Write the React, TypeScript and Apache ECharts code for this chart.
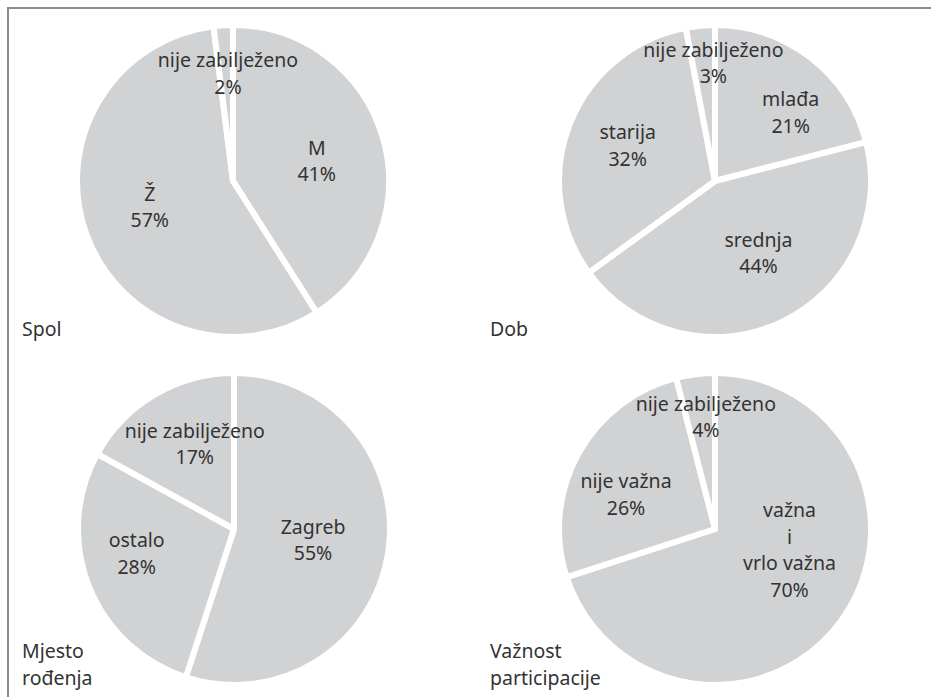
import React, { useEffect, useRef } from "react";
import * as echarts from "echarts";

const spolNames = ["M", "Ž", "nije zabilježeno"];
const spolValues = [41, 57, 2];
const dobNames = ["mlađa", "srednja", "starija", "nije zabilježeno"];
const dobValues = [21, 44, 32, 3];
const mjestoNames = ["Zagreb", "ostalo", "nije zabilježeno"];
const mjestoValues = [55, 28, 17];
const vaznostNames = ["važna\ni\nvrlo važna", "nije važna", "nije zabilježeno"];
const vaznostValues = [70, 26, 4];
const captions = ["Spol", "Dob", "Mjesto\nrođenja", "Važnost\nparticipacije"];

const FONT = "Noto Sans";
const TEXT = "#333333";
const SLICE = "#d1d2d4";

export default function App() {
  const ref = useRef<HTMLDivElement>(null);
  useEffect(() => {
    document.body.style.margin = "0";
    const chart = echarts.init(ref.current!, undefined, { renderer: "svg" });

    const mk = (
      names: string[],
      values: number[],
      center: [number, number],
      offsets: [number, number][]
    ) => ({
      type: "pie",
      center,
      radius: 156,
      startAngle: 90,
      clockwise: true,
      silent: true,
      avoidLabelOverlap: false,
      labelLayout: { hideOverlap: false },
      itemStyle: { color: SLICE, borderColor: "#ffffff", borderWidth: 6 },
      label: {
        show: true,
        position: "inside",
        formatter: "{b}\n{c}%",
        fontFamily: FONT,
        fontSize: 19.5,
        lineHeight: 26.5,
        color: TEXT,
        align: "center",
      },
      labelLine: { show: false },
      data: names.map((n, i) => ({
        name: n,
        value: values[i],
        label: { offset: offsets[i] },
      })),
    });

    chart.setOption({
      animation: false,
      series: [
        mk(spolNames, spolValues, [233, 181], [[6, 2], [-7, -2], [0, -27]]),
        mk(dobNames, dobValues, [715, 181], [[26, -5], [9, -2], [-12, -6], [6, -38]]),
        mk(mjestoNames, mjestoValues, [234, 529], [[-1, -2], [-22, -6], [2, -16]]),
        mk(vaznostNames, vaznostValues, [715, 529], [[9, -27], [-18, 4], [1, -32]]),
      ],
      graphic: [
        {
          type: "polyline",
          shape: { points: [[8, 697], [8, 8], [931, 8]] },
          style: { stroke: "#8c8c8c", lineWidth: 2, fill: "none" },
          silent: true,
        },
        ...captions.map((c, i) => ({
          type: "text",
          left: i % 2 === 0 ? 22 : 490,
          bottom: i < 2 ? 697 - 342 : 697 - 691,
          style: {
            text: c,
            font: `19.5px "${FONT}"`,
            fill: TEXT,
            lineHeight: 27,
          },
          silent: true,
        })),
      ],
    });
    return () => chart.dispose();
  }, []);
  return <div ref={ref} style={{ width: 931, height: 697 }} />;
}
